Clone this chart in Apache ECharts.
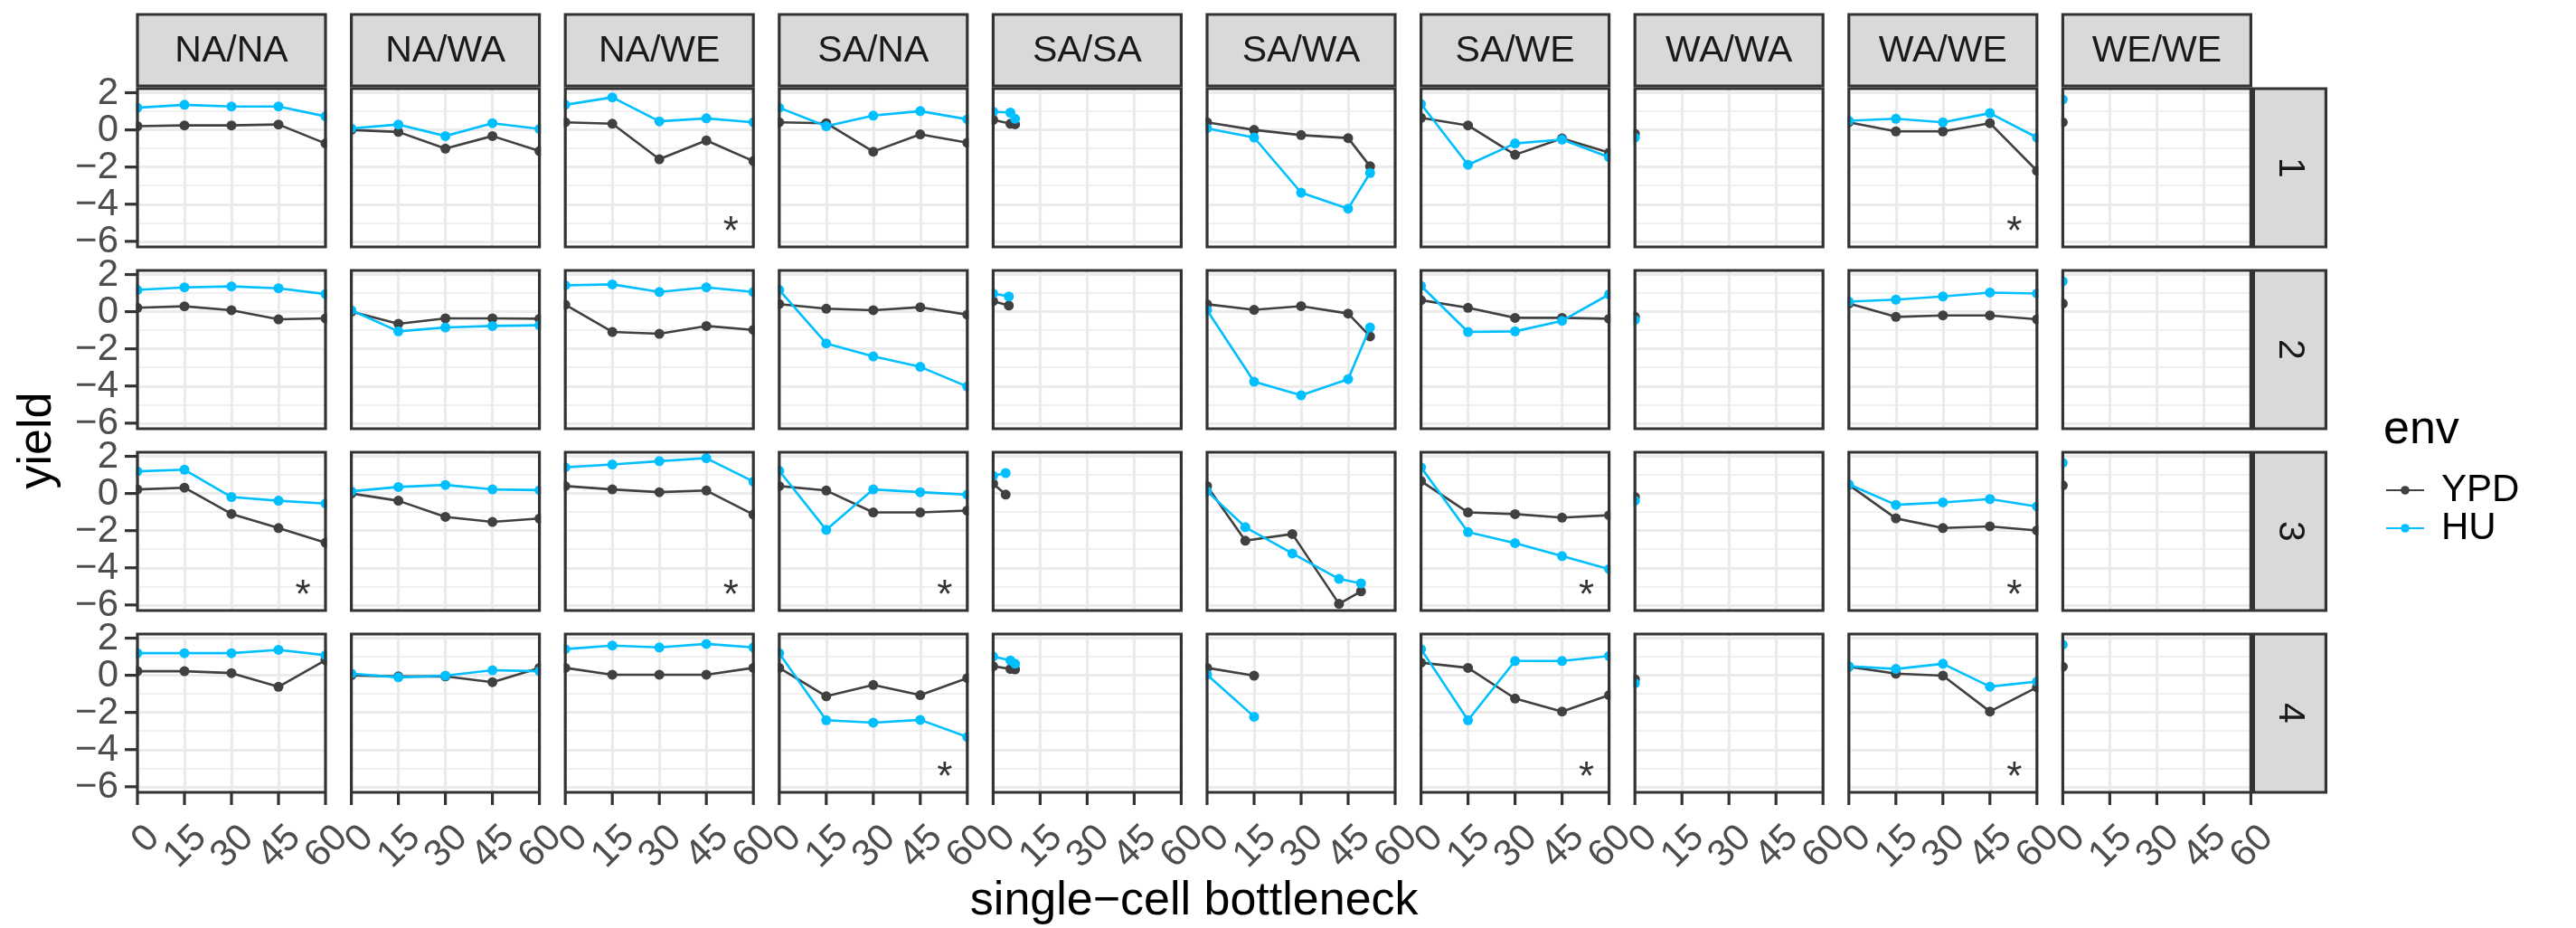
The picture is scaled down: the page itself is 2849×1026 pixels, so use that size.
<!DOCTYPE html>
<html><head><meta charset="utf-8">
<script src="https://cdn.jsdelivr.net/npm/echarts@6/dist/echarts.min.js"></script>
<style>html,body{margin:0;padding:0;background:#fff}#c{width:2849px;height:1026px}</style>
</head><body><div id="c"></div>
<script>
const columns = ['NA/NA','NA/WA','NA/WE','SA/NA','SA/SA','SA/WA','SA/WE','WA/WA','WA/WE','WE/WE'];
const rowLabels = ['1','2','3','4'];
const xTicks = [0,15,30,45,60];
const yTicks = [-6,-4,-2,0,2];
const yMinor = [-5,-3,-1,1];
const envNames = ['YPD','HU'];

const ypdRow1 = [
  [[0,0.2],[15,0.24],[30,0.24],[45,0.29],[60,-0.73]],
  [[0,0],[15,-0.11],[30,-1.01],[45,-0.33],[60,-1.14]],
  [[0,0.41],[15,0.33],[30,-1.58],[45,-0.57],[60,-1.68]],
  [[0,0.41],[15,0.36],[30,-1.17],[45,-0.24],[60,-0.69]],
  [[0,0.54],[5.5,0.33],[7,0.3]],
  [[0,0.41],[15,0],[30,-0.28],[45,-0.44],[52,-1.96]],
  [[0,0.65],[15,0.24],[30,-1.34],[45,-0.46],[60,-1.22]],
  [[0,-0.21]],
  [[0,0.41],[15,-0.08],[30,-0.08],[45,0.36],[60,-2.2]],
  [[0,0.41]]
];
const huRow1 = [
  [[0,1.19],[15,1.35],[30,1.26],[45,1.26],[60,0.73]],
  [[0,0.08],[15,0.29],[30,-0.33],[45,0.36],[60,0.05]],
  [[0,1.35],[15,1.75],[30,0.46],[45,0.62],[60,0.41]],
  [[0,1.19],[15,0.2],[30,0.77],[45,1.01],[60,0.57]],
  [[0,0.98],[5.5,0.93],[7,0.6]],
  [[0,0.08],[15,-0.41],[30,-3.38],[45,-4.24],[52,-2.32]],
  [[0,1.39],[15,-1.88],[30,-0.73],[45,-0.52],[60,-1.47]],
  [[0,-0.41]],
  [[0,0.49],[15,0.6],[30,0.41],[45,0.9],[60,-0.41]],
  [[0,1.63]]
];
const ypdRow2 = [
  [[0,0.21],[15,0.29],[30,0.08],[45,-0.41],[60,-0.36]],
  [[0,0],[15,-0.65],[30,-0.36],[45,-0.36],[60,-0.38]],
  [[0,0.38],[15,-1.09],[30,-1.19],[45,-0.77],[60,-0.98]],
  [[0,0.41],[15,0.16],[30,0.08],[45,0.24],[60,-0.16]],
  [[0,0.57],[5,0.33]],
  [[0,0.4],[15,0.1],[30,0.3],[45,-0.1],[52,-1.33]],
  [[0,0.62],[15,0.21],[30,-0.33],[45,-0.33],[60,-0.38]],
  [[0,-0.28]],
  [[0,0.44],[15,-0.28],[30,-0.2],[45,-0.2],[60,-0.41]],
  [[0,0.44]]
];
const huRow2 = [
  [[0,1.17],[15,1.31],[30,1.36],[45,1.26],[60,0.95]],
  [[0,0.08],[15,-1.06],[30,-0.85],[45,-0.77],[60,-0.73]],
  [[0,1.42],[15,1.47],[30,1.06],[45,1.31],[60,1.06]],
  [[0,1.17],[15,-1.71],[30,-2.41],[45,-2.97],[60,-4.03]],
  [[0,0.98],[5,0.82]],
  [[0,0.08],[15,-3.77],[30,-4.5],[45,-3.63],[52,-0.85]],
  [[0,1.39],[15,-1.09],[30,-1.06],[45,-0.49],[60,0.93]],
  [[0,-0.44]],
  [[0,0.54],[15,0.65],[30,0.82],[45,1.03],[60,0.98]],
  [[0,1.63]]
];
const ypdRow3 = [
  [[0,0.22],[15,0.31],[30,-1.1],[45,-1.86],[60,-2.65]],
  [[0,0],[15,-0.39],[30,-1.26],[45,-1.53],[60,-1.35]],
  [[0,0.4],[15,0.22],[30,0.07],[45,0.16],[60,-1.13]],
  [[0,0.4],[15,0.16],[30,-1.02],[45,-1.02],[60,-0.92]],
  [[0,0.53],[4,-0.06]],
  [[0,0.4],[12.2,-2.54],[27.2,-2.18],[42.1,-5.94],[49.1,-5.27]],
  [[0,0.67],[15,-1.02],[30,-1.11],[45,-1.3],[60,-1.17]],
  [[0,-0.19]],
  [[0,0.46],[15,-1.34],[30,-1.86],[45,-1.77],[60,-1.99]],
  [[0,0.44]]
];
const huRow3 = [
  [[0,1.19],[15,1.28],[30,-0.19],[45,-0.39],[60,-0.54]],
  [[0,0.12],[15,0.35],[30,0.46],[45,0.22],[60,0.18]],
  [[0,1.41],[15,1.56],[30,1.74],[45,1.9],[60,0.64]],
  [[0,1.22],[15,-1.96],[30,0.22],[45,0.07],[60,-0.06]],
  [[0,0.95],[4,1.1]],
  [[0,0.12],[12.2,-1.81],[27.2,-3.23],[42.1,-4.6],[49.1,-4.84]],
  [[0,1.41],[15,-2.08],[30,-2.67],[45,-3.37],[60,-4.07]],
  [[0,-0.39]],
  [[0,0.49],[15,-0.61],[30,-0.48],[45,-0.3],[60,-0.7]],
  [[0,1.65]]
];
const ypdRow4 = [
  [[0,0.22],[15,0.22],[30,0.12],[45,-0.62],[60,0.82]],
  [[0,0],[15,-0.06],[30,-0.06],[45,-0.37],[60,0.4]],
  [[0,0.4],[15,0.03],[30,0.03],[45,0.03],[60,0.4]],
  [[0,0.4],[15,-1.13],[30,-0.52],[45,-1.07],[60,-0.15]],
  [[0,0.49],[5.5,0.34],[7,0.32]],
  [[0,0.4],[15,-0.02]],
  [[0,0.68],[15,0.4],[30,-1.25],[45,-1.95],[60,-1.07]],
  [[0,-0.21]],
  [[0,0.46],[15,0.09],[30,-0.02],[45,-1.95],[60,-0.65]],
  [[0,0.46]]
];
const huRow4 = [
  [[0,1.19],[15,1.19],[30,1.19],[45,1.37],[60,1.08]],
  [[0,0.09],[15,-0.11],[30,-0.02],[45,0.27],[60,0.22]],
  [[0,1.41],[15,1.6],[30,1.5],[45,1.69],[60,1.5]],
  [[0,1.19],[15,-2.42],[30,-2.55],[45,-2.4],[60,-3.32]],
  [[0,1.01],[5.5,0.8],[7,0.62]],
  [[0,0.03],[15,-2.23]],
  [[0,1.41],[15,-2.42],[30,0.77],[45,0.77],[60,1.04]],
  [[0,-0.43]],
  [[0,0.49],[15,0.34],[30,0.62],[45,-0.61],[60,-0.34]],
  [[0,1.65]]
];
const asteriskRow1 = ['NA/WE','WA/WE'];
const asteriskRow2 = [];
const asteriskRow3 = ['NA/NA','NA/WE','SA/NA','SA/WE','WA/WE'];
const asteriskRow4 = ['SA/NA','SA/WE','WA/WE'];

const ypdRows = [ypdRow1, ypdRow2, ypdRow3, ypdRow4];
const huRows = [huRow1, huRow2, huRow3, huRow4];
const asteriskRows = [asteriskRow1, asteriskRow2, asteriskRow3, asteriskRow4];

// layout
const FONT = '"Liberation Sans", Arial, Helvetica, sans-serif';
const PL = 152, PW = 208, CP = 236.6;
const PT = 98, PH = 175, RP = 201;
const Y_MIN = -6.3, Y_MAX = 2.22;
const COL_YPD = '#404040', COL_HU = '#00BFFF';
const GRID_COL = '#EBEBEB', BORDER = '#333333', TICK_TXT = '#4D4D4D';
const TICK_FS = 42, STRIP_FS = 41, TITLE_FS = 52, LEG_FS = 42;
const TICK_LEN = 13;

const grids = [], xAxes = [], yAxes = [], series = [], graphics = [];
for (let r = 0; r < 4; r++) {
  for (let c = 0; c < 10; c++) {
    const i = r * 10 + c;
    const left = PL + c * CP, top = PT + r * RP;
    grids.push({left: left, top: top, width: PW, height: PH, show: false, containLabel: false, outerBoundsMode: 'none'});
    xAxes.push({
      type: 'value', gridIndex: i, min: 0, max: 60, interval: 15, position: 'bottom',
      axisLine: {show: false, onZero: false},
      axisTick: {show: false},
      axisLabel: {show: false},
      splitLine: {show: true, lineStyle: {color: GRID_COL, width: 3.2}}
    });
    yAxes.push({
      type: 'value', gridIndex: i, min: Y_MIN, max: Y_MAX, position: 'left',
      axisLine: {show: false, onZero: false},
      axisTick: {show: false, customValues: yTicks},
      axisLabel: {show: false, customValues: yTicks},
      splitLine: {show: true, lineStyle: {color: GRID_COL, width: 3.2}}
    });
    yAxes.push({
      type: 'value', gridIndex: i, min: Y_MIN, max: Y_MAX, position: 'right',
      axisLine: {show: false, onZero: false},
      axisTick: {show: false, customValues: yMinor},
      axisLabel: {show: false, customValues: yMinor},
      splitLine: {show: true, lineStyle: {color: GRID_COL, width: 1.7}}
    });
    const sets = [ypdRows[r][c], huRows[r][c]];
    const cols = [COL_YPD, COL_HU];
    for (let s = 0; s < 2; s++) {
      series.push({
        type: 'line', name: envNames[s], xAxisIndex: i, yAxisIndex: 2 * i,
        data: sets[s], symbol: 'circle', symbolSize: 11, showSymbol: true, showAllSymbol: true,
        lineStyle: {color: cols[s], width: 2.6}, itemStyle: {color: cols[s]},
        emphasis: {disabled: true}, animation: false, z: 3 + s, clip: true
      });
    }
    if (asteriskRows[r].indexOf(columns[c]) >= 0) {
      series.push({
        type: 'scatter', xAxisIndex: i, yAxisIndex: 2 * i, data: [[52.8, -5.55]],
        symbolSize: 1, itemStyle: {color: 'rgba(0,0,0,0)'}, silent: true, animation: false,
        label: {show: true, position: 'inside', formatter: '*', fontSize: 44, color: '#000', fontFamily: FONT}
      });
    }
    // white mask left of each panel (mimics clipping of points at the panel edge)
    const mw = (c === 0 ? 8 : CP - PW - 3.2);
    graphics.push({type: 'rect', z: 50, silent: true,
      shape: {x: left - mw - 1.6, y: top - 8, width: mw, height: PH + 16},
      style: {fill: '#fff'}});
    graphics.push({type: 'rect', z: 100, silent: true,
      shape: {x: left, y: top, width: PW, height: PH},
      style: {fill: 'none', stroke: BORDER, lineWidth: 3.2}});
  }
}
// column strips
for (let c = 0; c < 10; c++) {
  const left = PL + c * CP;
  graphics.push({type: 'rect', z: 100, silent: true,
    shape: {x: left, y: 16, width: PW, height: PT - 19},
    style: {fill: '#D9D9D9', stroke: BORDER, lineWidth: 3.2}});
  graphics.push({type: 'text', z: 101, silent: true, x: left + PW / 2, y: 16 + (PT - 19) / 2 + 1,
    style: {text: columns[c], fill: '#1A1A1A', font: STRIP_FS + 'px ' + FONT, align: 'center', verticalAlign: 'middle'}});
}
// row strips
const rightEdge = PL + 9 * CP + PW;
for (let r = 0; r < 4; r++) {
  const top = PT + r * RP;
  graphics.push({type: 'rect', z: 100, silent: true,
    shape: {x: rightEdge + 3, y: top, width: 80, height: PH},
    style: {fill: '#D9D9D9', stroke: BORDER, lineWidth: 3.2}});
  graphics.push({type: 'text', z: 101, silent: true, x: rightEdge + 43, y: top + PH / 2, rotation: -Math.PI / 2,
    style: {text: rowLabels[r], fill: '#1A1A1A', font: STRIP_FS + 'px ' + FONT, align: 'center', verticalAlign: 'middle'}});
}
// axis titles
graphics.push({type: 'text', z: 101, silent: true, x: (PL + rightEdge) / 2, y: 997,
  style: {text: 'single\u2212cell bottleneck', fill: '#000', font: TITLE_FS + 'px ' + FONT, align: 'center', verticalAlign: 'middle'}});
graphics.push({type: 'text', z: 101, silent: true, x: 42, y: PT + (3 * RP + PH) / 2, rotation: Math.PI / 2,
  style: {text: 'yield', fill: '#000', font: TITLE_FS + 'px ' + FONT, align: 'center', verticalAlign: 'middle'}});
graphics.push({type: 'text', z: 101, silent: true, x: 2636, y: 476,
  style: {text: 'env', fill: '#000', font: TITLE_FS + 'px ' + FONT, align: 'left', verticalAlign: 'middle'}});

const chart = echarts.init(document.getElementById('c'), null, {renderer: 'canvas'});
chart.setOption({
  backgroundColor: '#fff',
  animation: false,
  grid: grids, xAxis: xAxes, yAxis: yAxes, series: series,
  legend: {
    data: envNames, orient: 'vertical', left: 2638, top: 521, itemWidth: 42, itemHeight: 12, itemGap: 0,
    selectedMode: false,
    textStyle: {fontSize: LEG_FS, lineHeight: 40, color: '#000', fontFamily: FONT, padding: [0, 0, 0, 14]},
    padding: 0
  },
  graphic: graphics
});

// axis tick marks and tick labels, placed through the axes' own scales
function toPx(gi, x, y) {
  const p = chart.convertToPixel({gridIndex: gi}, [x, y]);
  return Array.isArray(p) ? p : [NaN, NaN];
}
const fmt = v => (v < 0 ? '\u2212' + Math.abs(v) : String(v));
const extra = [];
const bottomY = PT + 3 * RP + PH;
for (let c = 0; c < 10; c++) {
  const gi = 30 + c;
  xTicks.forEach(v => {
    const px = toPx(gi, v, 0)[0];
    extra.push({type: 'line', z: 110, silent: true,
      shape: {x1: px, y1: bottomY + 1, x2: px, y2: bottomY + 1 + TICK_LEN},
      style: {stroke: BORDER, lineWidth: 3.2}});
    extra.push({type: 'text', z: 110, silent: true, x: px + 3, y: bottomY + TICK_LEN + 16, rotation: Math.PI / 4,
      style: {text: String(v), fill: TICK_TXT, font: TICK_FS + 'px ' + FONT, align: 'right', verticalAlign: 'top'}});
  });
}
for (let r = 0; r < 4; r++) {
  const gi = r * 10;
  yTicks.forEach(v => {
    const py = toPx(gi, 0, v)[1];
    extra.push({type: 'line', z: 110, silent: true,
      shape: {x1: PL - 1 - TICK_LEN, y1: py, x2: PL - 1, y2: py},
      style: {stroke: BORDER, lineWidth: 3.2}});
    extra.push({type: 'text', z: 110, silent: true, x: PL - TICK_LEN - 8, y: py + 1,
      style: {text: fmt(v), fill: TICK_TXT, font: TICK_FS + 'px ' + FONT, align: 'right', verticalAlign: 'middle'}});
  });
}
chart.setOption({graphic: graphics.concat(extra)});
</script></body></html>
